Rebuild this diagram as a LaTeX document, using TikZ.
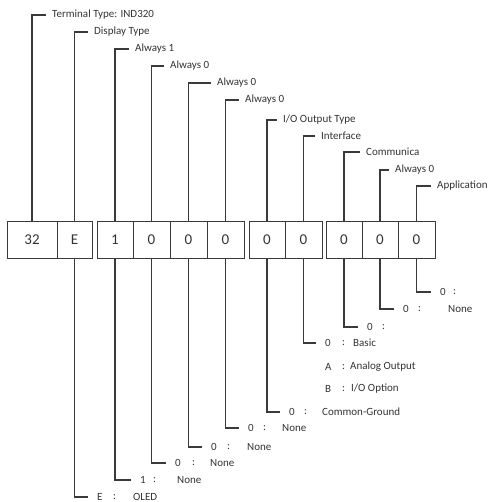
\documentclass[tikz,border=0pt]{standalone}
\usepackage{fontspec}
\setmainfont{Carlito}
\definecolor{ink}{HTML}{333333}
\definecolor{linec}{HTML}{3A3A3A}
\begin{document}
\begin{tikzpicture}[x=1pt,y=-1pt,
  box/.style={draw=linec,line width=1pt,minimum height=36pt,inner sep=0pt,font=\fontsize{15}{15}\selectfont,text=ink},
  toplbl/.style={anchor=west,inner xsep=6pt,inner ysep=1pt,font=\fontsize{11}{11}\selectfont,text=ink},
  code/.style={anchor=west,inner xsep=9pt,inner ysep=1pt,font=\fontsize{11}{11}\selectfont,text=ink},
  txt/.style={anchor=west,inner sep=0pt,font=\fontsize{11}{11}\selectfont,text=ink},
  conn/.style={draw=linec,line width=1.1pt}]
\useasboundingbox (0,0) rectangle (487,502);
% boxes
\node[box,minimum width=50pt] (b1) at (32,240) {32};
\node[box,minimum width=35pt] (b2) at (74.5,240) {E};
\node[box,minimum width=36pt] (b3) at (115,240) {1};
\node[box,minimum width=37pt] (b4) at (151.5,240) {0};
\node[box,minimum width=37pt] (b5) at (188.5,240) {0};
\node[box,minimum width=37pt] (b6) at (225.5,240) {0};
\node[box,minimum width=36pt] (b7) at (267,240) {0};
\node[box,minimum width=37pt] (b8) at (303.5,240) {0};
\node[box,minimum width=36pt] (b9) at (344,240) {0};
\node[box,minimum width=36pt] (b10) at (380,240) {0};
\node[box,minimum width=37pt] (b11) at (416.5,240) {0};
% top labels
\node[toplbl] (t1) at (46,15) {Terminal Type: IND320};
\node[toplbl] (t2) at (88,32) {Display Type};
\node[toplbl] (t3) at (129,49) {Always 1};
\node[toplbl] (t4) at (164,66) {Always 0};
\node[toplbl] (t5) at (211,83) {Always 0};
\node[toplbl] (t6) at (239,100) {Always 0};
\node[toplbl] (t7) at (277,120) {I/O Output Type};
\node[toplbl] (t8) at (315,136) {Interface};
\node[toplbl] (t9) at (360,152) {Communica};
\node[toplbl] (t10) at (389,170) {Always 0};
\node[toplbl] (t11) at (431,186) {Application};
\foreach \i in {1,...,11} {\draw[conn] (b\i.north) |- (t\i.west);}
% bottom labels
\node[code] (c2) at (88,497) {E};
\node[txt] at (113,497) {:};
\node[txt] at (133,497) {OLED};
\node[code] (c3) at (131,480) {1};
\node[txt] at (153,480) {:};
\node[txt] at (177,480) {None};
\node[code] (c4) at (166,463) {0};
\node[txt] at (192,463) {:};
\node[txt] at (210,463) {None};
\node[code] (c5) at (202,447) {0};
\node[txt] at (227,447) {:};
\node[txt] at (247,447) {None};
\node[code] (c6) at (239,428) {0};
\node[txt] at (263,428) {:};
\node[txt] at (282,428) {None};
\node[code] (c7) at (280,412) {0};
\node[txt] at (304,412) {:};
\node[txt] at (322,412) {Common-Ground};
\node[code] (c8) at (316,343) {0};
\node[txt] at (342,343) {:};
\node[txt] at (353,343) {Basic};
\node[txt] at (325,367) {A};
\node[txt] at (342,367) {:};
\node[txt] at (350,367) {Analog Output};
\node[txt] at (325,389) {B};
\node[txt] at (342,389) {:};
\node[txt] at (351,389) {I/O Option};
\node[code] (c9) at (358,327) {0};
\node[txt] at (382,327) {:};
\node[code] (c10) at (394,309) {0};
\node[txt] at (418,309) {:};
\node[txt] at (448,309) {None};
\node[code] (c11) at (431,292) {0};
\node[txt] at (453,292) {:};
\foreach \i in {2,...,11} {\draw[conn] (b\i.south) |- (c\i.west);}
\end{tikzpicture}
\end{document}
